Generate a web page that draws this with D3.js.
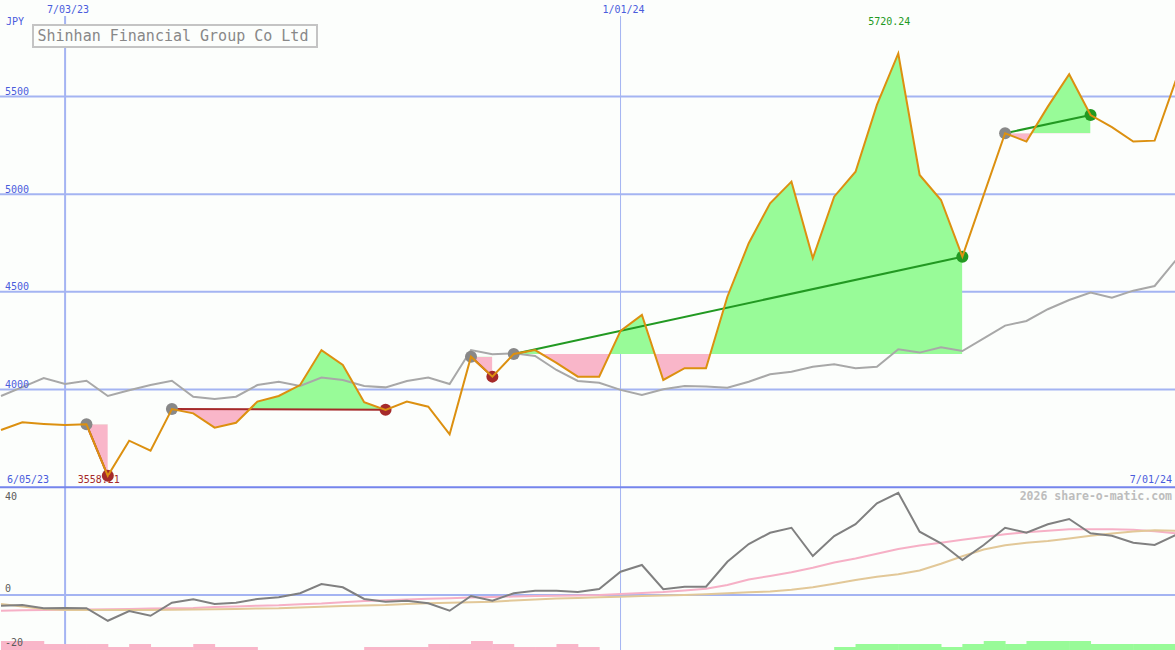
<!DOCTYPE html>
<html><head><meta charset="utf-8">
<script src="https://cdn.jsdelivr.net/npm/d3@7"></script>
<style>
html,body{margin:0;padding:0;background:#fcfefc;}
svg{display:block;}
text{font-family:"DejaVu Sans Mono","Liberation Mono",monospace;}
</style></head><body>
<svg id="chart" width="1175" height="650"></svg>
<script>
// ---------------- data ----------------
const title = "Shinhan Financial Group Co Ltd";
const currency = "JPY";
const firstWeek = "2023-06-12";
const lastWeek = "2024-07-01";
const cornerLabels = ["6/05/23", "7/01/24"];
const dateTicks = ["2023-07-03", "2024-01-01"];
const dateTickLabels = ["7/03/23", "1/01/24"];
const priceTicks = [4000, 4500, 5000, 5500];
const oscTicks = [40, 0, -20];

// weekly closing price (JPY)
const price = [3793, 3832, 3824, 3818, 3822, 3558.21, 3738, 3687, 3900, 3878,
  3805, 3830, 3938, 3967, 4023, 4202, 4126, 3935, 3896, 3938,
  3912, 3771, 4168, 4066, 4182, 4202, 4136, 4066, 4066, 4300,
  4382, 4049, 4109, 4109, 4475, 4749, 4953, 5064, 4672, 4987,
  5115, 5457, 5720.24, 5098, 4970, 4680, 4996, 5312, 5269, 5448,
  5614, 5405, 5343, 5269, 5274, 5585];
// comparison index, rebased to price axis
const indexLine = [3967, 4012, 4059, 4028, 4045, 3967, 3996, 4023, 4045, 3963,
  3952, 3963, 4023, 4040, 4018, 4061, 4049, 4018, 4011, 4044,
  4061, 4028, 4202, 4180, 4186, 4172, 4100, 4044, 4035, 3998,
  3972, 4001, 4018, 4015, 4009, 4040, 4078, 4091, 4117, 4129,
  4109, 4117, 4206, 4189, 4216, 4197, 4262, 4327, 4351, 4411,
  4458, 4496, 4470, 4506, 4530, 4663];
// lower panel oscillator and its averages
const osc = [-4.3, -4.0, -5.3, -5.2, -5.3, -10.3, -6.4, -8.3, -3.1, -1.7,
  -3.6, -3.1, -1.6, -0.9, 0.7, 4.4, 3.1, -1.6, -2.7, -2.3,
  -3.3, -6.3, -0.4, -2.3, 0.7, 1.7, 1.7, 1.2, 2.4, 9.3,
  12.0, 2.3, 3.3, 3.3, 13.3, 20.4, 24.9, 26.9, 15.6, 23.6,
  28.3, 36.7, 40.9, 25.3, 20.7, 14.0, 20.0, 26.9, 24.9, 28.3,
  30.4, 24.7, 23.7, 20.9, 20.0, 24.0];
const avgFast = [-6.3, -6.1, -6.0, -5.9, -5.8, -5.7, -5.6, -5.4, -5.3, -5.2,
  -4.8, -4.6, -4.3, -4.1, -3.7, -3.4, -2.9, -2.4, -2.1, -1.8,
  -1.5, -1.3, -1.0, -0.8, -0.6, -0.4, -0.3, -0.2, 0.0, 0.4,
  0.8, 1.2, 1.8, 2.5, 4.0, 6.2, 7.6, 9.1, 10.9, 13.0,
  14.6, 16.5, 18.4, 19.8, 20.9, 22.1, 23.2, 24.3, 25.1, 25.7,
  26.3, 26.3, 26.3, 26.1, 25.5, 24.7];
const avgSlow = [-3.6, -4.6, -5.6, -6.0, -6.0, -6.0, -6.0, -6.0, -5.9, -5.8,
  -5.7, -5.6, -5.4, -5.3, -5.0, -4.7, -4.4, -4.2, -4.0, -3.6,
  -3.3, -3.1, -2.9, -2.7, -2.2, -1.8, -1.4, -1.2, -0.9, -0.7,
  -0.4, -0.2, 0.0, 0.3, 0.7, 1.1, 1.4, 2.1, 3.1, 4.5,
  6.0, 7.3, 8.3, 9.8, 12.5, 15.5, 18.2, 19.9, 20.9, 21.6,
  22.6, 23.7, 24.6, 25.4, 25.9, 25.7];
// signal strength histogram (negative = sell zone, positive = buy zone)
const signalBars = [-3, -3, -2, -2, -2, -1, -2, -1, -1, -2,
  -1, -1, 0, 0, 0, 0, 0, -1, -1, -1,
  -2, -2, -3, -2, -1, -1, -2, -1, 0, 0,
  0, 0, 0, 0, 0, 0, 0, 0, 0, 1,
  2, 2, 2, 2, 1, 2, 3, 2, 3, 3,
  3, 2, 2, 2, 2, 2];
// trades: entry week index / exit week index
const tradeEntry = [4, 8, 22, 24, 47];
const tradeExit = [5, 18, 23, 45, 51];

// ---------------- layout ----------------
const W = 1175, H = 650;
const parse = d3.timeParse("%Y-%m-%d");
const dates = d3.timeMonday.range(parse(firstWeek), d3.timeDay.offset(parse(lastWeek), 1));
const rows = dates.map((d, i) => ({date: d, price: price[i], idx: indexLine[i], osc: osc[i],
  fast: avgFast[i], slow: avgSlow[i], bar: signalBars[i]}));

const x = d3.scaleTime().domain([parse(firstWeek), parse(lastWeek)]).range([1, 1176]);
const y = d3.scaleLinear().domain([3500, 6000]).range([487.2, -1.2]);
const yL = d3.scaleLinear().domain([-20, 40]).range([645, 495]);
const barH = d3.scaleLinear().domain([0, 3]).range([0, 9]);
const oscLabelDy = [5, -3, 1];

const C = {
  grid: "#a4b4f2", sep: "#7585ec", axisText: "#4a5cdc", price: "#dc9010",
  index: "#a8a8a8", green: "#98fb98", pink: "#f9b6c9", win: "#229922",
  loss: "#a52a2a", entry: "#888888", osc: "#808080", fast: "#f6b0c6", slow: "#e2c898"
};

const svg = d3.select("#chart");
svg.append("rect").attr("width", W).attr("height", H).attr("fill", "#fcfefc");
const defs = svg.append("defs");
defs.append("clipPath").attr("id", "mainClip").append("rect")
  .attr("x", 0).attr("y", 0).attr("width", W).attr("height", y(3500));
defs.append("clipPath").attr("id", "lowClip").append("rect")
  .attr("x", 0).attr("y", y(3500) + 1).attr("width", W).attr("height", H - y(3500));

// horizontal grid (main)
svg.append("g").selectAll("line").data(priceTicks).join("line")
  .attr("x1", 0).attr("x2", W).attr("y1", d => y(d)).attr("y2", d => y(d))
  .attr("stroke", C.grid).attr("stroke-width", 2);
// lower zero line
svg.append("line").attr("x1", 0).attr("x2", W).attr("y1", yL(0)).attr("y2", yL(0))
  .attr("stroke", C.grid).attr("stroke-width", 2);
// vertical date lines
svg.append("g").selectAll("line").data(dateTicks).join("line")
  .attr("x1", d => x(parse(d))).attr("x2", d => x(parse(d)))
  .attr("y1", 16).attr("y2", H)
  .attr("stroke", C.grid).attr("stroke-width", (d, i) => i === 0 ? 2 : 1);

// ---------- main panel ----------
const main = svg.append("g").attr("clip-path", "url(#mainClip)");

// trade fills
tradeEntry.forEach((e, k) => {
  const xo = tradeExit[k];
  const seg = rows.slice(e, xo + 1);
  const base = y(price[e]);
  const area = d3.area().x(d => x(d.date)).y0(base).y1(d => y(d.price));
  const x0 = x(dates[e]), x1 = x(dates[xo]);
  defs.append("clipPath").attr("id", "up" + k).append("rect")
    .attr("x", x0).attr("y", 0).attr("width", x1 - x0).attr("height", base);
  defs.append("clipPath").attr("id", "dn" + k).append("rect")
    .attr("x", x0).attr("y", base).attr("width", x1 - x0).attr("height", y(3500) - base);
  main.append("path").datum(seg).attr("d", area).attr("fill", C.green).attr("clip-path", `url(#up${k})`);
  main.append("path").datum(seg).attr("d", area).attr("fill", C.pink).attr("clip-path", `url(#dn${k})`);
});

// comparison index line
main.append("path").datum(rows)
  .attr("d", d3.line().x(d => x(d.date)).y(d => y(d.idx)))
  .attr("fill", "none").attr("stroke", C.index).attr("stroke-width", 2);

// trade connecting lines
tradeEntry.forEach((e, k) => {
  const xo = tradeExit[k];
  const win = price[xo] > price[e];
  main.append("line")
    .attr("x1", x(dates[e])).attr("y1", y(price[e]))
    .attr("x2", x(dates[xo])).attr("y2", y(price[xo]))
    .attr("stroke", win ? C.win : C.loss).attr("stroke-width", 2);
});

// markers
tradeEntry.forEach((e, k) => {
  const xo = tradeExit[k];
  const win = price[xo] > price[e];
  main.append("circle").attr("cx", x(dates[e])).attr("cy", y(price[e])).attr("r", 6).attr("fill", C.entry);
  main.append("circle").attr("cx", x(dates[xo])).attr("cy", y(price[xo])).attr("r", 6).attr("fill", win ? C.win : C.loss);
});

// price line
main.append("path").datum(rows)
  .attr("d", d3.line().x(d => x(d.date)).y(d => y(d.price)))
  .attr("fill", "none").attr("stroke", C.price).attr("stroke-width", 2).attr("stroke-linejoin", "miter");

// min / max labels
const iMin = d3.minIndex(price), iMax = d3.maxIndex(price);
svg.append("text").attr("x", x(dates[iMin]) - 9).attr("y", y(3500) - 4)
  .attr("text-anchor", "middle").attr("font-size", 10).attr("fill", C.loss)
  .text(price[iMin].toFixed(2));
svg.append("text").attr("x", x(dates[iMax]) - 9).attr("y", 25)
  .attr("text-anchor", "middle").attr("font-size", 10).attr("fill", C.win)
  .text(price[iMax].toFixed(2));

// panel separator
svg.append("line").attr("x1", 0).attr("x2", W).attr("y1", y(3500)).attr("y2", y(3500))
  .attr("stroke", C.sep).attr("stroke-width", 2);

// ---------- lower panel ----------
const low = svg.append("g").attr("clip-path", "url(#lowClip)");
const step = x(dates[1]) - x(dates[0]);
low.append("g").selectAll("rect").data(rows.filter(d => d.bar !== 0)).join("rect")
  .attr("x", d => x(d.date)).attr("width", step + 0.5)
  .attr("y", d => H - barH(Math.abs(d.bar))).attr("height", d => barH(Math.abs(d.bar)))
  .attr("fill", d => d.bar < 0 ? C.pink : C.green);
low.append("path").datum(rows)
  .attr("d", d3.line().x(d => x(d.date)).y(d => yL(d.fast)))
  .attr("fill", "none").attr("stroke", C.fast).attr("stroke-width", 2);
low.append("path").datum(rows)
  .attr("d", d3.line().x(d => x(d.date)).y(d => yL(d.slow)))
  .attr("fill", "none").attr("stroke", C.slow).attr("stroke-width", 2);
low.append("path").datum(rows)
  .attr("d", d3.line().x(d => x(d.date)).y(d => yL(d.osc)))
  .attr("fill", "none").attr("stroke", C.osc).attr("stroke-width", 2);

// ---------- texts ----------
svg.append("g").selectAll("text").data(priceTicks).join("text")
  .attr("x", 5).attr("y", d => y(d) - 1.5).attr("font-size", 10).attr("fill", C.axisText)
  .text(d => d);
svg.append("text").attr("x", 6).attr("y", 25).attr("font-size", 10).attr("fill", C.axisText).text(currency);
svg.append("g").selectAll("text").data(dateTicks).join("text")
  .attr("x", d => x(parse(d)) + 3).attr("y", 13).attr("text-anchor", "middle")
  .attr("font-size", 10).attr("fill", C.axisText).text((d, i) => dateTickLabels[i]);
svg.append("text").attr("x", 7).attr("y", y(3500) - 4).attr("font-size", 10).attr("fill", C.axisText).text(cornerLabels[0]);
svg.append("text").attr("x", 1172).attr("y", y(3500) - 4).attr("text-anchor", "end")
  .attr("font-size", 10).attr("fill", C.axisText).text(cornerLabels[1]);
svg.append("g").selectAll("text").data(oscTicks).join("text")
  .attr("x", 5).attr("y", (d, i) => yL(d) + oscLabelDy[i])
  .attr("font-size", 10).attr("fill", "#5a5a5a").text(d => d);
svg.append("text").attr("x", 1172).attr("y", 500).attr("text-anchor", "end")
  .attr("font-size", 11.5).attr("font-weight", "bold").attr("fill", "#bdbdbd").text("2026 share-o-matic.com");

// title box
svg.append("rect").attr("x", 33).attr("y", 25).attr("width", 284).attr("height", 22)
  .attr("fill", "#fcfefc").attr("stroke", "#c4c4c4").attr("stroke-width", 2);
svg.append("text").attr("x", 37.5).attr("y", 41).attr("font-size", 15).attr("fill", "#888888").text(title);
</script>
</body></html>
